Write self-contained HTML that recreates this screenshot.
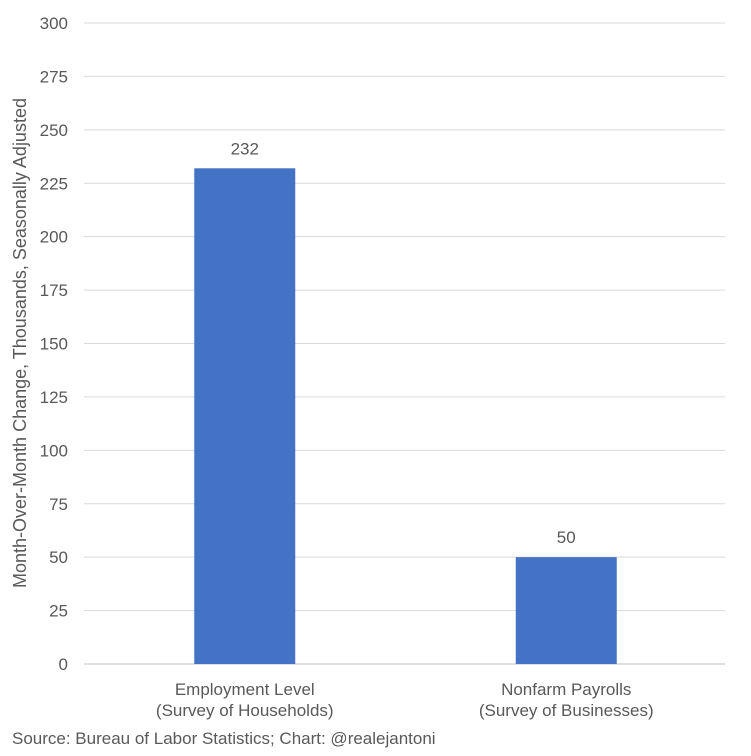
<!DOCTYPE html>
<html><head><meta charset="utf-8"><style>
body{margin:0;background:#fff;}
svg text{font-family:"Liberation Sans",sans-serif;fill:#595959;}
</style></head><body>
<svg width="751" height="751" xmlns="http://www.w3.org/2000/svg">
<g id="grid"></g><g id="bars"></g><g id="labels"></g>
<text transform="translate(26,343) rotate(-90)" text-anchor="middle" font-size="18">Month-Over-Month Change, Thousands, Seasonally Adjusted</text>
<text x="12" y="744" font-size="17">Source: Bureau of Labor Statistics; Chart: @realejantoni</text>
</svg>
<script>
const categories=[["Employment Level","(Survey of Households)"],["Nonfarm Payrolls","(Survey of Businesses)"]];
const values=[232,50];
const ticks=[0,25,50,75,100,125,150,175,200,225,250,275,300];
const NS="http://www.w3.org/2000/svg";
const x0=84,x1=727,y0=664,yTop=23,maxV=300;
const y=v=>y0-(v/maxV)*(y0-yTop);
const band=(x1-x0)/categories.length;
const cx=i=>x0+band*(i+0.5);
const bw=101;
function mk(tag,attrs,parent,txt){const e=document.createElementNS(NS,tag);for(const k in attrs)e.setAttribute(k,attrs[k]);if(txt!==undefined)e.textContent=txt;document.getElementById(parent).appendChild(e);return e;}
ticks.forEach(t=>{
  const l=mk('line',{x1:x0,x2:725,y1:y(t),y2:y(t),stroke:t===0?'#bfbfbf':'#d9d9d9','stroke-width':1},'grid');
  
  
  const tx=mk('text',{x:68,y:y(t)+6,'text-anchor':'end','font-size':17},'grid',t);
  
  
});
values.forEach((v,i)=>{
  const r=mk('rect',{x:cx(i)-bw/2,y:y(v),width:bw,height:y0-y(v),fill:'#4472c4'},'bars');
  
  
  const vl=mk('text',{x:cx(i),y:y(v)-14,'text-anchor':'middle','font-size':17},'labels',v);
  
  
  categories[i].forEach((s,j)=>{
    const c=mk('text',{x:cx(i),y:695+j*21,'text-anchor':'middle','font-size':17},'labels',s);
    
    
  });
});
</script>
</body></html>
